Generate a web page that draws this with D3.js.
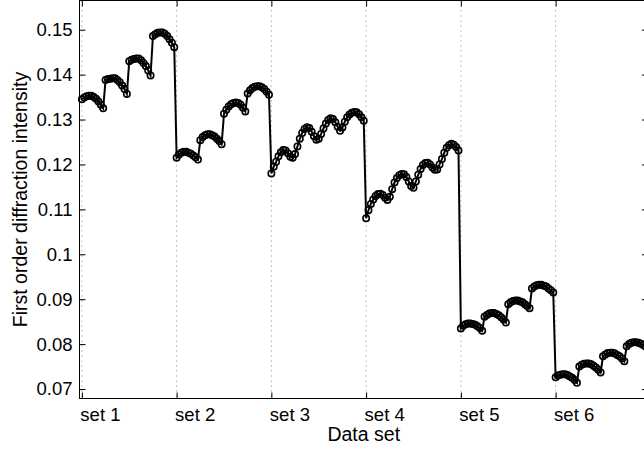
<!DOCTYPE html>
<html lang="en">
<head>
    <meta charset="UTF-8">
    <title>First order diffraction intensity</title>
    <script src="https://d3js.org/d3.v7.min.js"></script>
    <style>
        body { margin: 0; background: #fff; }
        svg { display: block; }
        text { font-family: "Liberation Sans", Arial, Helvetica, sans-serif; font-size: 18px; fill: #000; }
    </style>
</head>
<body>
    <svg id="chart" width="644" height="450"></svg>

    <script>
        // Values, 40 points per data set
        const set1 = [
            0.1345, 0.1349, 0.1352, 0.1353, 0.1353, 0.1350, 0.1346, 0.1340, 0.1333, 0.1325,
            0.1388, 0.1390, 0.1391, 0.1392, 0.1392, 0.1388, 0.1383, 0.1376, 0.1368, 0.1357,
            0.1430, 0.1433, 0.1435, 0.1436, 0.1436, 0.1432, 0.1426, 0.1419, 0.1409, 0.1398,
            0.1486, 0.1490, 0.1493, 0.1494, 0.1494, 0.1491, 0.1486, 0.1479, 0.1471, 0.1461
        ];
        const set2 = [
            0.1215, 0.1222, 0.1226, 0.1228, 0.1228, 0.1226, 0.1224, 0.1220, 0.1216, 0.1211,
            0.1254, 0.1261, 0.1265, 0.1267, 0.1267, 0.1265, 0.1262, 0.1257, 0.1252, 0.1245,
            0.1313, 0.1322, 0.1329, 0.1334, 0.1337, 0.1338, 0.1337, 0.1333, 0.1326, 0.1318,
            0.1358, 0.1365, 0.1370, 0.1373, 0.1374, 0.1374, 0.1372, 0.1368, 0.1362, 0.1355
        ];
        const set3 = [
            0.1180, 0.1195, 0.1206, 0.1218, 0.1227, 0.1232, 0.1231, 0.1225, 0.1217, 0.1215,
            0.1223, 0.1240, 0.1257, 0.1270, 0.1279, 0.1283, 0.1281, 0.1273, 0.1263, 0.1255,
            0.1257, 0.1268, 0.1280, 0.1291, 0.1299, 0.1303, 0.1301, 0.1294, 0.1284, 0.1275,
            0.1282, 0.1295, 0.1305, 0.1311, 0.1315, 0.1317, 0.1316, 0.1312, 0.1305, 0.1297
        ];
        const set4 = [
            0.1080, 0.1098, 0.1112, 0.1122, 0.1130, 0.1134, 0.1135, 0.1132, 0.1126, 0.1121,
            0.1128, 0.1145, 0.1160, 0.1170, 0.1176, 0.1179, 0.1178, 0.1172, 0.1162, 0.1152,
            0.1148, 0.1162, 0.1177, 0.1190, 0.1199, 0.1203, 0.1204, 0.1200, 0.1193, 0.1188,
            0.1189, 0.1200, 0.1212, 0.1226, 0.1237, 0.1243, 0.1246, 0.1244, 0.1239, 0.1231
        ];
        const set5 = [
            0.0835, 0.0841, 0.0844, 0.0846, 0.0846, 0.0845, 0.0843, 0.0840, 0.0836, 0.0830,
            0.0861, 0.0865, 0.0868, 0.0869, 0.0869, 0.0867, 0.0864, 0.0860, 0.0855, 0.0848,
            0.0889, 0.0893, 0.0896, 0.0897, 0.0897, 0.0895, 0.0893, 0.0889, 0.0885, 0.0880,
            0.0924, 0.0928, 0.0931, 0.0932, 0.0932, 0.0930, 0.0928, 0.0924, 0.0920, 0.0915
        ];
        const set6 = [
            0.0726, 0.0730, 0.0732, 0.0733, 0.0733, 0.0731, 0.0728, 0.0725, 0.0720, 0.0714,
            0.0750, 0.0754, 0.0756, 0.0757, 0.0757, 0.0755, 0.0752, 0.0748, 0.0743, 0.0737,
            0.0773, 0.0777, 0.0780, 0.0781, 0.0781, 0.0779, 0.0776, 0.0773, 0.0768, 0.0762,
            0.0795, 0.0800, 0.0803, 0.0804, 0.0804, 0.0803, 0.0801, 0.0798, 0.0794, 0.0789
        ];
        const setLabels = ["set 1", "set 2", "set 3", "set 4", "set 5", "set 6"];
        const setTicks = [1, 41, 81, 121, 161, 201];
        const yTicks = [0.07, 0.08, 0.09, 0.1, 0.11, 0.12, 0.13, 0.14, 0.15];

        // all sets end to end, indexed from 1
        const data = [set1, set2, set3, set4, set5, set6].flat()
            .map((v, i) => ({ i: i + 1, v }));

        // plot box (right edge sits just past the window)
        const boxLeft = 79.5, boxRight = 648, boxTop = 0.5, boxBottom = 398.5;

        const svg = d3.select("#chart");

        const x = d3.scaleLinear().domain([0, 240]).range([boxLeft, boxRight]);
        const y = d3.scaleLinear().domain([0.06789, 0.1565]).range([boxBottom, boxTop]);

        // dotted vertical grid
        svg.append("g")
            .selectAll("line")
            .data(setTicks)
            .enter()
            .append("line")
            .attr("x1", d => x(d)).attr("x2", d => x(d))
            .attr("y1", boxTop).attr("y2", boxBottom)
            .attr("stroke", "#888")
            .attr("stroke-width", 1)
            .attr("stroke-dasharray", "1,4");

        // axes, ticks pointing inward like matlab
        const tickLen = 6;
        svg.append("g")
            .attr("transform", `translate(0,${boxBottom})`)
            .call(d3.axisBottom(x).tickValues(setTicks).tickSize(-tickLen).tickSizeOuter(0)
                .tickFormat((d, i) => setLabels[i]))
            .call(g => g.select(".domain").remove())
            .call(g => g.selectAll("text")
                .attr("y", 22)
                .attr("dy", 0)
                .attr("dx", -2)
                .style("text-anchor", "start"));

        svg.append("g")
            .attr("transform", `translate(0,${boxTop})`)
            .call(d3.axisTop(x).tickValues(setTicks).tickSize(-tickLen).tickSizeOuter(0).tickFormat(""))
            .call(g => g.select(".domain").remove());

        svg.append("g")
            .attr("transform", `translate(${boxLeft},0)`)
            .call(d3.axisLeft(y).tickValues(yTicks).tickSize(-tickLen).tickSizeOuter(0)
                .tickFormat(d3.format("~g")))
            .call(g => g.select(".domain").remove())
            .call(g => g.selectAll("text").attr("x", -7));

        svg.append("g")
            .attr("transform", `translate(${boxRight},0)`)
            .call(d3.axisRight(y).tickValues(yTicks).tickSize(-tickLen).tickSizeOuter(0).tickFormat(""))
            .call(g => g.select(".domain").remove());

        svg.selectAll(".tick line").attr("stroke", "#000");
        svg.selectAll(".tick text").style("font-size", "18.5px");

        svg.append("rect")
            .attr("x", boxLeft).attr("y", boxTop)
            .attr("width", boxRight - boxLeft).attr("height", boxBottom - boxTop)
            .attr("fill", "none")
            .attr("stroke", "#000")
            .attr("stroke-width", 1);

        // the series line
        const line = d3.line()
            .x(d => x(d.i))
            .y(d => y(d.v));

        svg.append("path")
            .datum(data)
            .attr("d", line)
            .attr("fill", "none")
            .attr("stroke", "#000")
            .attr("stroke-width", 2);

        svg.selectAll(".dot")
            .data(data)
            .enter()
            .append("circle")
            .attr("class", "dot")
            .attr("cx", d => x(d.i))
            .attr("cy", d => y(d.v))
            .attr("r", 3.2)
            .attr("fill", "none")
            .attr("stroke", "#000")
            .attr("stroke-width", 1.6);

        // axis titles
        svg.append("text")
            .attr("x", (boxLeft + boxRight) / 2)
            .attr("y", 440.5)
            .attr("text-anchor", "middle")
            .style("font-size", "19.5px")
            .text("Data set");

        svg.append("text")
            .attr("transform", `translate(27,${(boxTop + boxBottom) / 2}) rotate(-90)`)
            .attr("text-anchor", "middle")
            .style("font-size", "19.5px")
            .text("First order diffraction intensity");
    </script>
</body>
</html>
